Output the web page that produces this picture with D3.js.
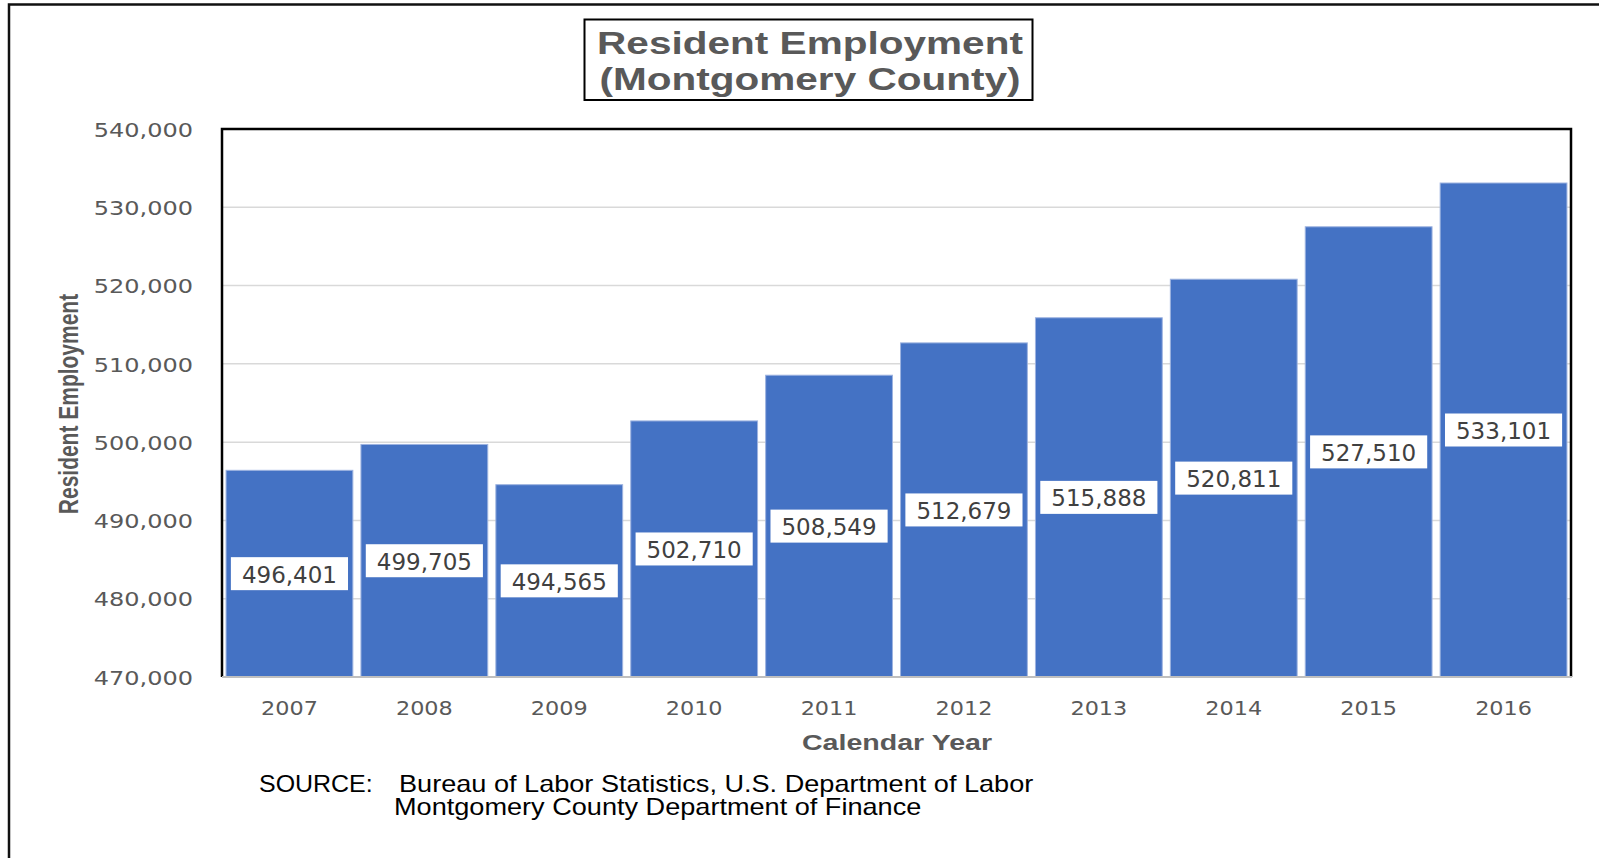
<!DOCTYPE html>
<html>
<head>
<meta charset="utf-8">
<script src="https://cdn.jsdelivr.net/npm/d3@7"></script>
<style>
  html, body { margin: 0; padding: 0; background: #fff; }
  svg { display: block; }
</style>
</head>
<body>
<svg id="chart" width="1599" height="858" font-family="Liberation Sans, Arial, sans-serif"></svg>
<script>
// Resident employment, Montgomery County, by calendar year
const years = ["2007", "2008", "2009", "2010", "2011", "2012", "2013", "2014", "2015", "2016"];
const employment = [496401, 499705, 494565, 502710, 508549, 512679, 515888, 520811, 527510, 533101];
const yTicks = [470000, 480000, 490000, 500000, 510000, 520000, 530000, 540000];
const titleLines = ["Resident Employment", "(Montgomery County)"];
const yAxisTitle = "Resident Employment";
const xAxisTitle = "Calendar Year";
const sourceLabel = "SOURCE:";
const sourceLines = ["Bureau of Labor Statistics, U.S. Department of Labor",
                     "Montgomery County Department of Finance"];

const svg = d3.select("#chart");
const plot = { left: 222, right: 1571, top: 129, bottom: 677 };
const stretch = 1.33;      // wide bold lettering of titles
const tickStretch = 1.2;   // wide numerals on the axes
const noteStretch = 1.13;  // source note lettering
const numFont = "DejaVu Sans, Verdana, sans-serif";

const x = d3.scaleBand()
  .domain(years)
  .range([plot.left, plot.right])
  .paddingInner(0.06)
  .paddingOuter(0.03);

const y = d3.scaleLinear()
  .domain([yTicks[0], yTicks[yTicks.length - 1]])
  .range([plot.bottom, plot.top]);

// outer frame (top and left edges)
svg.append("path")
  .attr("d", `M9,858 V4.5 H1599`)
  .attr("fill", "none")
  .attr("stroke", "#111")
  .attr("stroke-width", 2.5);

// title box
const titleBox = svg.append("g");
titleBox.append("rect")
  .attr("x", 584.5).attr("y", 19.5)
  .attr("width", 448).attr("height", 80.5)
  .attr("fill", "#fff")
  .attr("stroke", "#000")
  .attr("stroke-width", 2);
titleBox.selectAll("text")
  .data(titleLines)
  .join("text")
  .attr("transform", (d, i) => `translate(810,${54 + i * 35.5}) scale(${stretch},1)`)
  .attr("text-anchor", "middle")
  .attr("font-size", 30.5)
  .attr("font-weight", "bold")
  .attr("fill", "#595959")
  .text(d => d);

// horizontal gridlines
svg.append("g")
  .selectAll("line")
  .data(yTicks.slice(1, -1))
  .join("line")
  .attr("x1", plot.left).attr("x2", plot.right)
  .attr("y1", d => y(d)).attr("y2", d => y(d))
  .attr("stroke", "#d9d9d9")
  .attr("stroke-width", 1.5);

// bars
svg.append("g")
  .selectAll("rect")
  .data(employment)
  .join("rect")
  .attr("x", (d, i) => x(years[i]))
  .attr("width", x.bandwidth())
  .attr("y", d => y(d))
  .attr("height", d => y(yTicks[0]) - y(d))
  .attr("fill", "#4472C4")
  .attr("stroke", "#9db3e0")
  .attr("stroke-width", 1);

// plot frame: black on left, top and right; grey baseline
svg.append("path")
  .attr("d", `M${plot.left},${plot.bottom} V${plot.top} H${plot.right} V${plot.bottom}`)
  .attr("fill", "none")
  .attr("stroke", "#000")
  .attr("stroke-width", 2.5);
svg.append("line")
  .attr("x1", plot.left).attr("x2", plot.right + 1)
  .attr("y1", plot.bottom).attr("y2", plot.bottom)
  .attr("stroke", "#bfbfbf")
  .attr("stroke-width", 2);

// y axis
const yAxis = svg.append("g")
  .attr("transform", `translate(${plot.left},0)`)
  .call(d3.axisLeft(y).tickValues(yTicks).tickFormat(d3.format(",")).tickSize(0));
yAxis.attr("font-family", numFont);
yAxis.select(".domain").remove();
yAxis.selectAll("text")
  .attr("x", 0)
  .attr("dy", "0.36em")
  .attr("transform", `translate(-29,0) scale(${tickStretch},1)`)
  .attr("font-size", 20)
  .attr("fill", "#595959");

// x axis
const xAxis = svg.append("g")
  .attr("transform", `translate(0,${plot.bottom})`)
  .call(d3.axisBottom(x).tickSize(0));
xAxis.attr("font-family", numFont);
xAxis.select(".domain").remove();
xAxis.selectAll("text")
  .attr("y", 0)
  .attr("dy", 0)
  .attr("transform", `translate(0,37.5) scale(${tickStretch},1)`)
  .attr("font-size", 18.6)
  .attr("fill", "#595959");

// axis titles
svg.append("text")
  .attr("transform", `translate(897,750) scale(${stretch},1)`)
  .attr("text-anchor", "middle")
  .attr("font-size", 21.5)
  .attr("font-weight", "bold")
  .attr("fill", "#595959")
  .text(xAxisTitle);

svg.append("text")
  .attr("transform", `translate(78,404) scale(${stretch},1) rotate(-90)`)
  .attr("text-anchor", "middle")
  .attr("font-size", 21)
  .attr("font-weight", "bold")
  .attr("fill", "#595959")
  .text(yAxisTitle);

// value labels in white boxes, centred within each bar
const labels = svg.append("g")
  .attr("font-family", numFont)
  .selectAll("g")
  .data(employment)
  .join("g")
  .attr("transform", (d, i) => {
    const cx = x(years[i]) + x.bandwidth() / 2;
    const cy = (y(d) + y(yTicks[0])) / 2;
    return `translate(${cx},${cy})`;
  });
const boxRects = labels.append("rect").attr("fill", "#fff");
const labelTexts = labels.append("text")
  .attr("y", 9)
  .attr("text-anchor", "middle")
  .attr("font-size", 23)
  .attr("fill", "#404040")
  .text(d => d3.format(",")(d));
labelTexts.each(function (d, i) {
  const w = this.getComputedTextLength() + 22;
  d3.select(boxRects.nodes()[i])
    .attr("x", -w / 2).attr("y", -16.5)
    .attr("width", w).attr("height", 33);
});

// source note
const note = svg.append("g").attr("fill", "#000").attr("font-size", 24);
note.append("text")
  .attr("transform", `translate(259,791.5) scale(1.04,1)`)
  .text(sourceLabel);
note.selectAll("text.src")
  .data(sourceLines)
  .join("text")
  .attr("class", "src")
  .attr("transform", (d, i) => `translate(${i === 0 ? 399 : 394},${791.5 + i * 23.5}) scale(${noteStretch},1)`)
  .text(d => d);
</script>
</body>
</html>
